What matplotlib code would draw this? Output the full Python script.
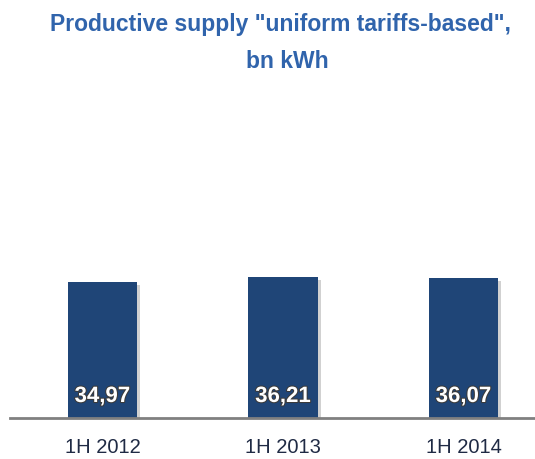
import matplotlib
matplotlib.use("Agg")
import matplotlib.pyplot as plt
import matplotlib.patheffects as pe

categories = ["1H 2012", "1H 2013", "1H 2014"]
values = [34.97, 36.21, 36.07]
value_labels = ["34,97", "36,21", "36,07"]
title_lines = ['Productive supply "uniform tariffs-based",', "bn kWh"]

W, H = 535, 459
fig = plt.figure(figsize=(W / 100, H / 100), dpi=100)
fig.patch.set_facecolor("white")

font = ["Liberation Sans", "DejaVu Sans"]

base_y = 417.5
top_y = 100
ax = fig.add_axes([10 / W, (H - base_y) / H, 1 - 10 / W, (base_y - top_y) / H])
px_per_unit = (base_y - 278) / 36.07
ymax = (base_y - top_y) / px_per_unit
ax.set_ylim(0, ymax)
ax.set_xlim(-0.512, 2.396)

bar_color = "#1F4577"
xs = list(range(len(categories)))
ax.bar(xs, values, width=0.385, color=bar_color, zorder=3,
       path_effects=[pe.SimplePatchShadow(offset=(2, -2), shadow_rgbFace="#999999", alpha=0.45), pe.Normal()])

for x, lbl in zip(xs, value_labels):
    ax.text(x, 15.5 / px_per_unit, lbl, ha="center", va="baseline", color="white", fontsize=16,
            fontweight="bold", family=font, zorder=5,
            path_effects=[pe.withStroke(linewidth=1.5, foreground="#3a3a3a")])

for s in ["top", "right", "left"]:
    ax.spines[s].set_visible(False)
ax.spines["bottom"].set_color("#808080")
ax.spines["bottom"].set_linewidth(2)
ax.spines["bottom"].set_zorder(4)
ax.set_yticks([])
ax.set_xticks(xs)
ax.set_xticklabels(categories, fontsize=14.5, color="#1F2A44", family=font)
ax.tick_params(axis="x", length=0, pad=15)

title_color = "#3064AC"
fig.text(281 / W, 1 - 31 / H, title_lines[0], ha="center", va="baseline",
         fontsize=16.5, fontweight="bold", color=title_color, family=font)
fig.text(287 / W, 1 - 68 / H, title_lines[1], ha="center", va="baseline",
         fontsize=16.5, fontweight="bold", color=title_color, family=font)

fig.savefig("out.png", dpi=100, facecolor="white")
